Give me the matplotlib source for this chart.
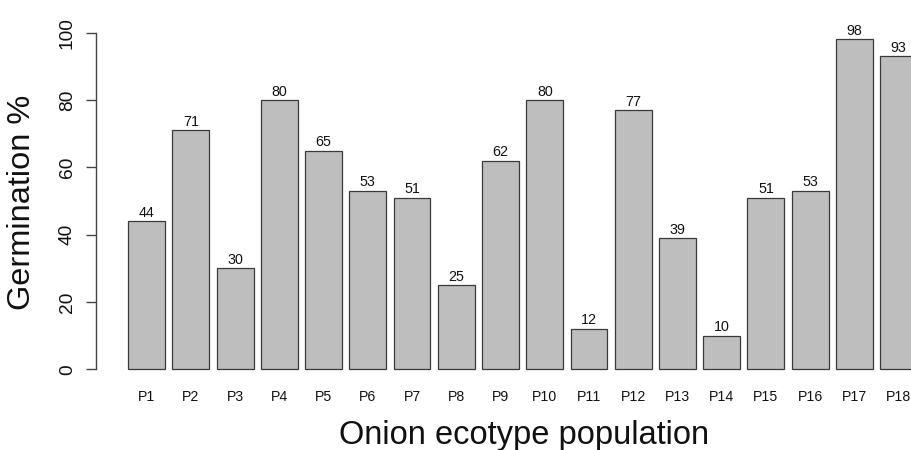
import matplotlib
matplotlib.use("Agg")
import matplotlib.pyplot as plt

plt.rcParams['font.family'] = ['Liberation Sans', 'DejaVu Sans']

populations = ['P1', 'P2', 'P3', 'P4', 'P5', 'P6', 'P7', 'P8', 'P9', 'P10',
               'P11', 'P12', 'P13', 'P14', 'P15', 'P16', 'P17', 'P18']
germination = [44, 71, 30, 80, 65, 53, 51, 25, 62, 80,
               12, 77, 39, 10, 51, 53, 98, 93]
y_ticks = [0, 20, 40, 60, 80, 100]

W, H = 912, 450
fig = plt.figure(figsize=(W / 100, H / 100), dpi=100)

# R barplot geometry: bar width 1, space 0.2, plot region extended by 4%
px_unit = 36.86
x_lo, x_hi = -0.664, 22.664
left_px = 96.4
bottom_px, top_px = 369.3, 32.7
ax = fig.add_axes([left_px / W, (H - bottom_px) / H,
                   (x_hi - x_lo) * px_unit / W, (bottom_px - top_px) / H])

xpos = [0.7 + 1.2 * i for i in range(len(germination))]
ax.bar(xpos, germination, width=1.0, color='#bebebe', edgecolor='#3a3a3a',
       linewidth=0.9, clip_on=False)

for x, v in zip(xpos, germination):
    ax.annotate(str(v), (x, v), xytext=(0, 3.2), textcoords='offset points',
                ha='center', va='baseline', fontsize=10.3, color='#111111',
                annotation_clip=False)

ax.set_xlim(x_lo, x_hi)
ax.set_ylim(0, 100)
for s in ['top', 'right', 'bottom']:
    ax.spines[s].set_visible(False)
ax.spines['left'].set_color('#444444')
ax.spines['left'].set_linewidth(1.0)

ax.set_xticks(xpos)
ax.set_xticklabels(populations, fontsize=10.2, color='#111111')
ax.tick_params(axis='x', length=0, pad=15)

ax.set_yticks(y_ticks)
ax.set_yticklabels([str(t) for t in y_ticks], fontsize=13.8, color='#111111')
ax.tick_params(axis='y', length=7.2, width=1.0, color='#444444', pad=7.5,
               labelrotation=90)
for lab in ax.get_yticklabels():
    lab.set_va('center')

fig.text(22 / W, 1 - 202 / H, 'Germination %', rotation=90, ha='center',
         va='center', fontsize=23.4, color='#111111')
fig.text(524.5 / W, (H - 444.3) / H, 'Onion ecotype population', ha='center',
         va='baseline', fontsize=23.5, color='#111111')

fig.savefig('out.png', dpi=100)
